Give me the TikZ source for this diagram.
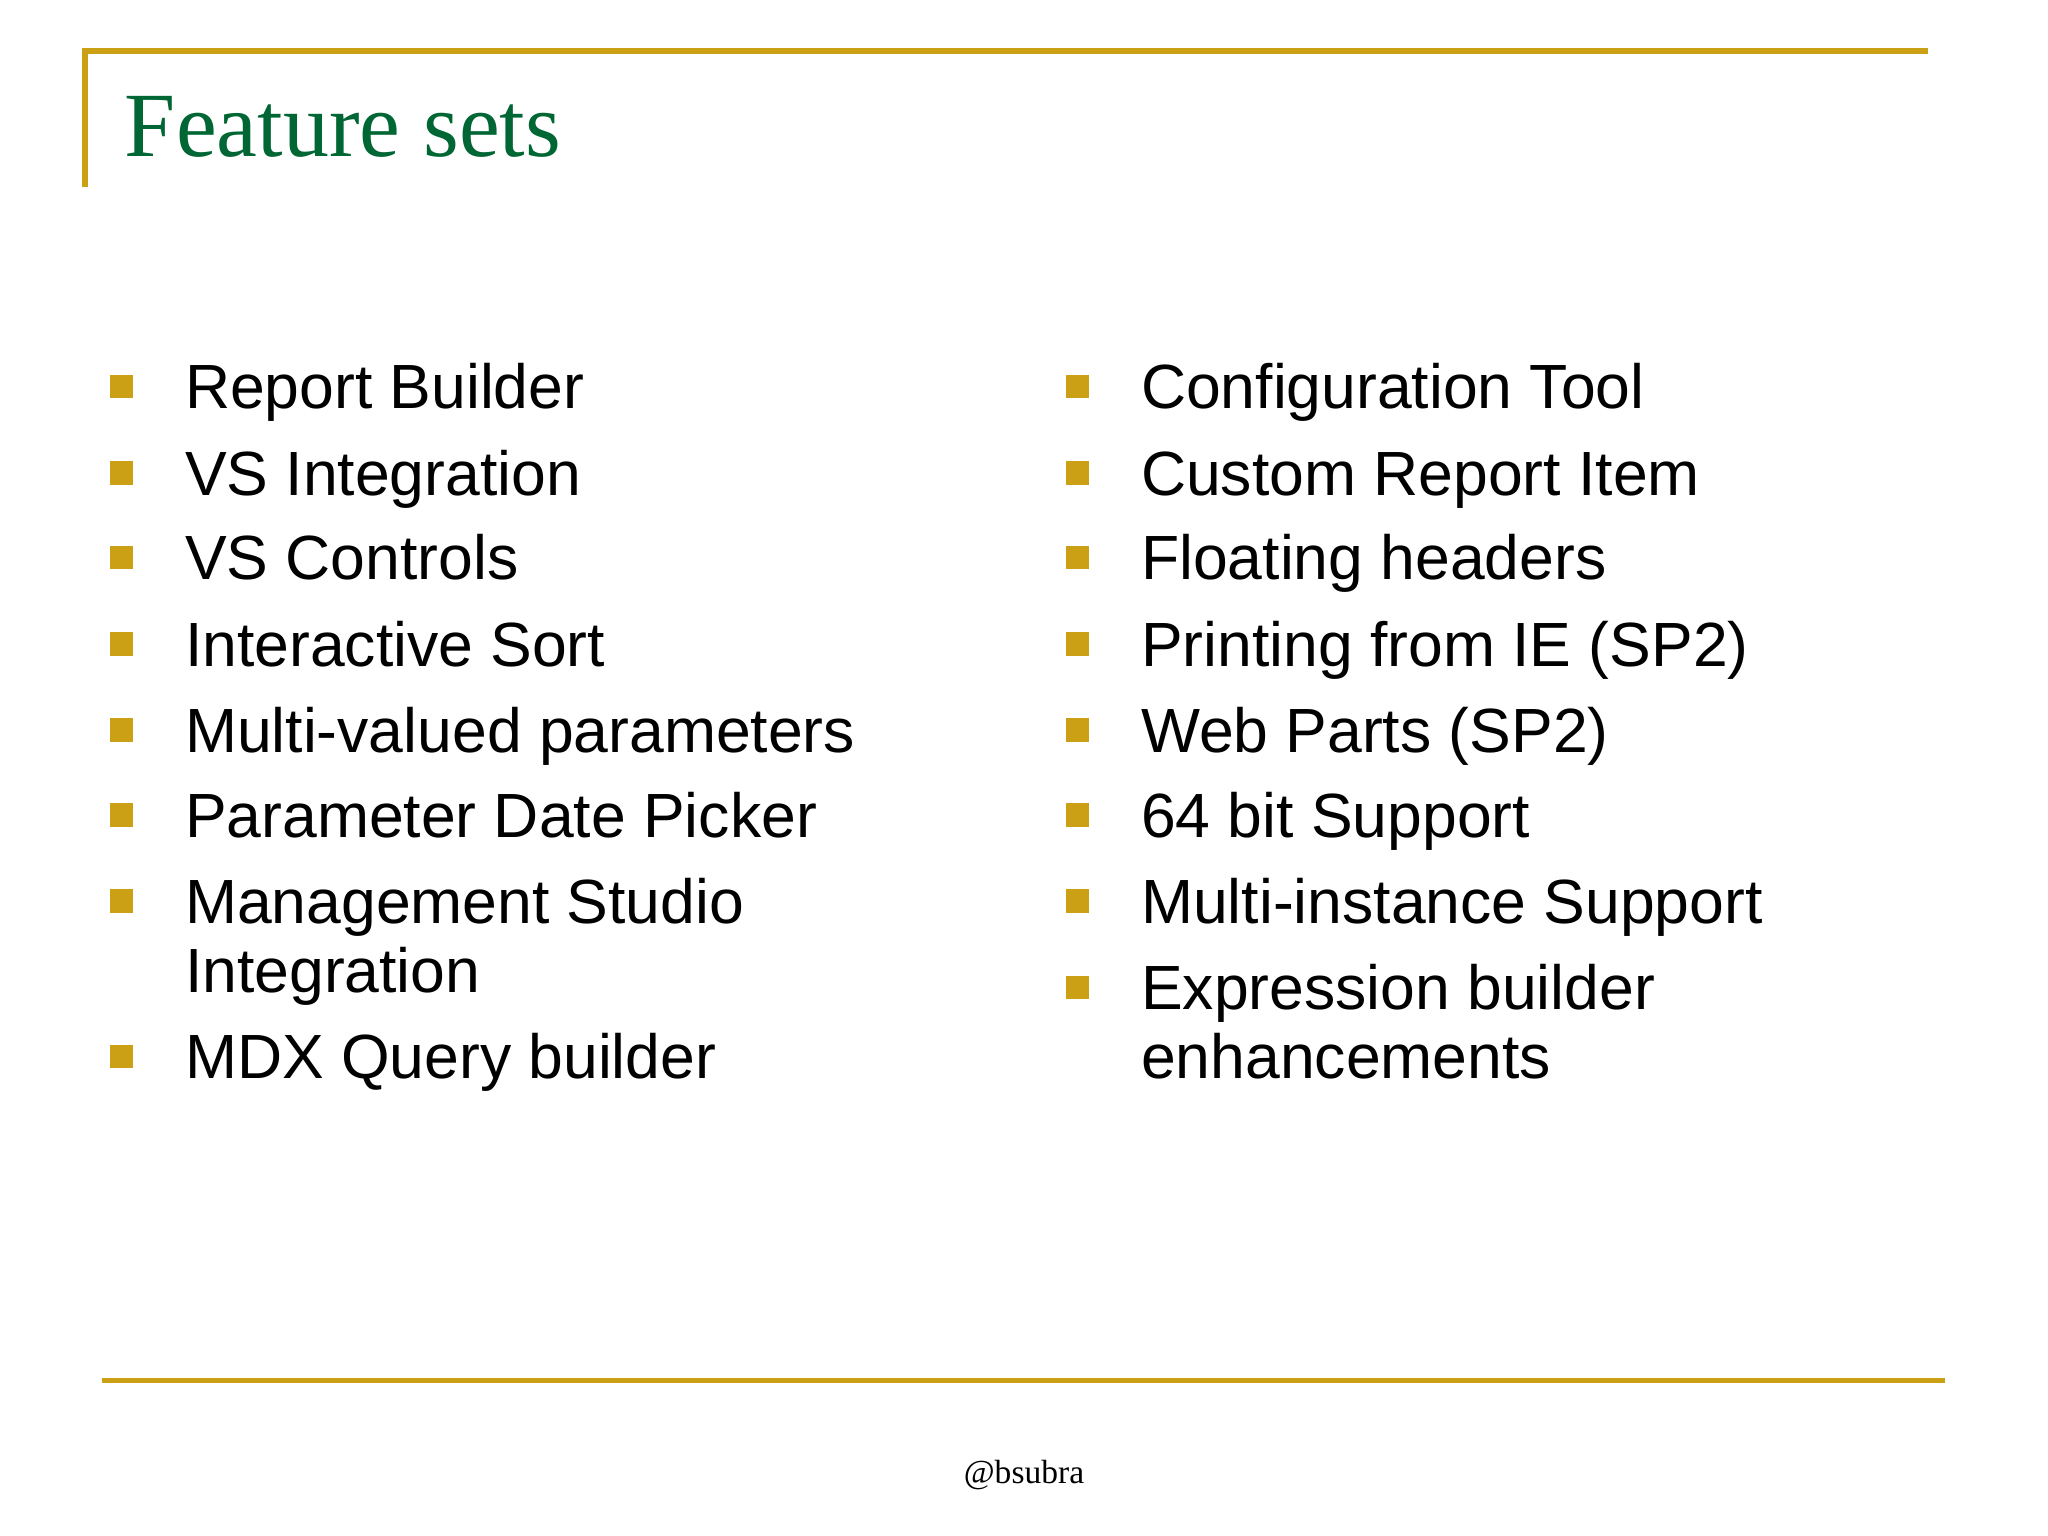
\documentclass[tikz,border=0pt]{standalone}
\usepackage{fontspec}
\setmainfont{Liberation Serif}
\newfontfamily\arial{Liberation Sans}
\definecolor{gold}{RGB}{204,160,20}
\definecolor{ttl}{RGB}{0,102,51}
\begin{document}
\begin{tikzpicture}[x=0.01cm,y=-0.01cm,
  itm/.style={anchor=base west,inner sep=0pt,font=\arial\fontsize{13.6pt}{16pt}\selectfont},
  bul/.style={fill=gold,minimum size=0.18cm,inner sep=0pt}]
\useasboundingbox[fill=white] (0,0) rectangle (1568,1176);
\draw[gold,line width=1.2pt] (65,143) -- (65,39) -- (1476,39);
\draw[gold,line width=1.2pt] (78,1057) -- (1489,1057);
\node[anchor=base west,inner sep=0pt,text=ttl,font=\fontsize{20pt}{24pt}\selectfont] (title) at (95,120) {Feature sets};
\node[inner sep=0pt,font=\fontsize{7.3pt}{9pt}\selectfont] (foot) at (784,1129) {@bsubra};
\foreach \y/\t [count=\i] in {296/Report Builder,362/VS Integration,427/VS Controls,493/Interactive Sort,559/Multi-valued parameters,624/Parameter Date Picker,690/Management Studio,809/MDX Query builder}{
  \node[bul] (lb\i) at (93,\y) {};
  \node[itm] (lt\i) at (141,\y+17) {\t};
}
\node[itm] (lt7b) at (141,743+17) {Integration};
\foreach \y/\t [count=\i] in {296/Configuration Tool,362/Custom Report Item,427/Floating headers,493/Printing from IE (SP2),559/Web Parts (SP2),624/64 bit Support,690/Multi-instance Support,756/Expression builder}{
  \node[bul] (rb\i) at (825,\y) {};
  \node[itm] (rt\i) at (873,\y+17) {\t};
}
\node[itm] (rt8b) at (873,809+17) {enhancements};
\end{tikzpicture}
\end{document}
